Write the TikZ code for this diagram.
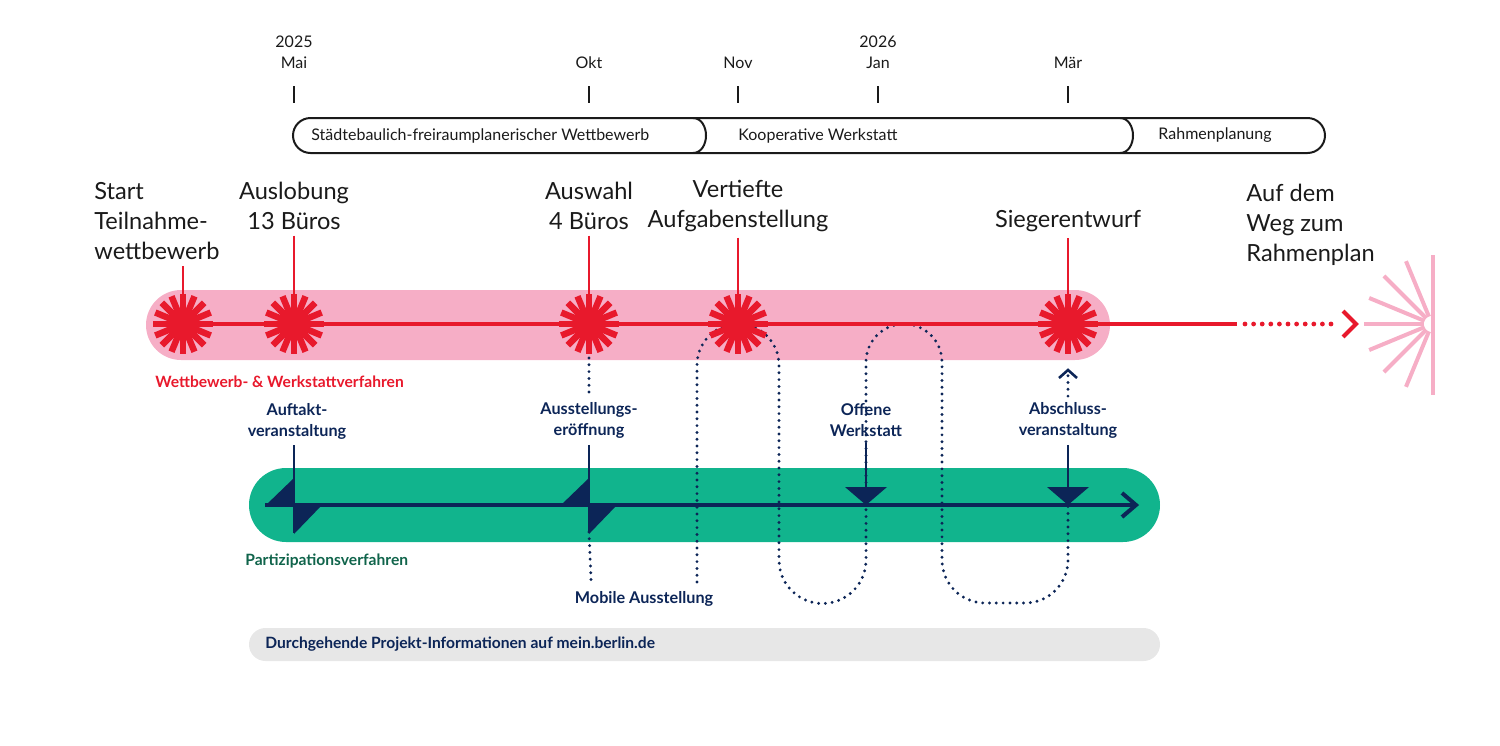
\documentclass[tikz,border=0pt]{standalone}
\usepackage{fontspec}
\setmainfont{Lato}
\usetikzlibrary{arrows.meta}
\definecolor{rred}{HTML}{E8192C}
\definecolor{rpink}{HTML}{F6AEC6}
\definecolor{rgreen}{HTML}{11B48D}
\definecolor{rnavy}{HTML}{0C2557}
\definecolor{rdkgreen}{HTML}{10644B}
\definecolor{rgrey}{HTML}{E7E7E7}
\definecolor{rtext}{HTML}{1A1A1A}
\tikzset{
  biglabel/.style={font=\fontsize{11.8}{15}\selectfont, text=rtext, align=center, inner sep=3pt},
  monthlabel/.style={font=\fontsize{8}{10.5}\selectfont, text=rtext, align=center, inner sep=1pt},
  phaselabel/.style={font=\fontsize{8}{10}\selectfont, text=rtext, inner sep=0pt},
  bluelabel/.style={font=\bfseries\fontsize{8.1}{10.5}\selectfont, text=rnavy, align=center, inner sep=3pt},
  bandlabel/.style={font=\bfseries\fontsize{7.8}{10}\selectfont, anchor=west, inner sep=0pt},
  redtick/.style={rred, line width=1pt},
  monthtick/.style={rtext, line width=1.2pt},
  navyv/.style={rnavy, line width=1.4pt},
  navydot/.style={rnavy, line width=1.6pt, line cap=round, dash pattern=on 0pt off 3.4pt},
  reddot/.style={rred, line width=2.4pt, line cap=round, dash pattern=on 0pt off 4.3pt},
  starburst/.pic={
    \foreach \a in {0,22.5,...,337.5}{\draw[rred, line width=3.2pt] (0,0) -- (\a:30);}
    \fill[rred] (0,0) circle (14);
  }
}
\begin{document}
\begin{tikzpicture}[x=0.5pt,y=-0.5pt]
\useasboundingbox (0,0) rectangle (1500,745);

% ---- month scale
\node[monthlabel] (mai) at (294,52.5) {2025\\Mai};
\node[monthlabel] (okt) at (589,63) {Okt};
\node[monthlabel] (nov) at (738,63) {Nov};
\node[monthlabel] (jan) at (878,52.5) {2026\\Jan};
\node[monthlabel] (mar) at (1068,63) {Mär};
\foreach \x in {294,589,738,878,1068}{\draw[monthtick] (\x,86) -- (\x,103);}

% ---- phase bar
\draw[rtext, line width=1pt, rounded corners=8.75pt] (293,118) rectangle (1325,153);
\draw[rtext, line width=1pt] (693,118) to[out=0,in=90] (706,135.5) to[out=-90,in=0] (693,153);
\draw[rtext, line width=1pt] (1120,118) to[out=0,in=90] (1133,135.5) to[out=-90,in=0] (1120,153);
\node[phaselabel, anchor=west] (ph1) at (311,135.5) {Städtebaulich-freiraumplanerischer Wettbewerb};
\node[phaselabel, anchor=west] (ph2) at (738,135.5) {Kooperative Werkstatt};
\node[phaselabel] (ph3) at (1215,135.5) {Rahmenplanung};

% ---- bands
\fill[rpink, rounded corners=17.5pt] (146,290) rectangle (1110,360);
\fill[rgreen, rounded corners=18.5pt] (249,468) rectangle (1160,542);
\fill[rgrey, rounded corners=8.25pt] (249,628) rectangle (1160,661);

% ---- event coordinates
\coordinate (s1) at (183,324);
\coordinate (s2) at (294,324);
\coordinate (s3) at (589,324);
\coordinate (s4) at (738,324);
\coordinate (s5) at (1068,324);
\coordinate (g1) at (294,505);
\coordinate (g2) at (589,505);
\coordinate (g3) at (866,505);
\coordinate (g4) at (1068,505);
\coordinate (redend) at (1237,324);
\coordinate (redtip) at (1356,324);
\coordinate (pb) at (1432,324);
\coordinate (navyend) at (1136,505);

% ---- labels above
\node[biglabel, align=left, anchor=west] (lstart) at (88,221) {Start\\Teilnahme-\\wettbewerb};
\node[biglabel] (lauslob) at (294,205.5) {Auslobung\\13 Büros};
\node[biglabel] (lauswahl) at (589,205.5) {Auswahl\\4 Büros};
\node[biglabel] (lvert) at (738,205.5) {Vertiefte\\Aufgabenstellung};
\node[biglabel] (lsieg) at (1068,221) {Siegerentwurf};
\node[biglabel, align=left, anchor=west] (lweg) at (1240,225) {Auf dem\\Weg zum\\Rahmenplan};

\draw[redtick] (lstart.south -| s1) -- (s1);
\draw[redtick] (lauslob.south) -- (s2);
\draw[redtick] (lauswahl.south) -- (s3);
\draw[redtick] (lvert.south) -- (s4);
\draw[redtick] (lsieg.south) -- (s5);

% ---- blue labels
\node[bluelabel] (lauftakt) at (297,421) {Auftakt-\\veranstaltung};
\node[bluelabel] (lausst) at (589,420.5) {Ausstellungs-\\eröffnung};
\node[bluelabel] (loffen) at (866,420.5) {Offene\\Werkstatt};
\node[bluelabel] (labschl) at (1068,420.5) {Abschluss-\\veranstaltung};
\node[bluelabel] (lmobil) at (644,599) {Mobile Ausstellung};
\node[bandlabel, text=rred] (lwett) at (155,382) {Wettbewerb- \& Werkstattverfahren};
\node[bandlabel, text=rdkgreen] (lpart) at (245,561) {Partizipationsverfahren};
\node[bandlabel, text=rnavy] (linfo) at (265,644.5) {Durchgehende Projekt-Informationen auf mein.berlin.de};

% ---- dotted paths
\draw[navydot] (s3) ++(0,34) -- (lausst.north);
\draw[navydot] (g2) ++(0,27) -- (591,580);
\draw[navydot] (697,582) -- (697,365) arc[start angle=180, end angle=360, radius=41]
  -- (779,560) arc[start angle=180, end angle=0, radius=43.5]
  -- (866,362) arc[start angle=180, end angle=360, radius=38]
  -- (942,560) arc[start angle=180, end angle=90, radius=43]
  -- (1025,603) arc[start angle=90, end angle=0, radius=43] -- (g4);
\coordinate (abtip) at (1068,370);
\draw[navydot] (labschl.north) -- (abtip);
\draw[rnavy, line width=1.3pt] (1059,378) -- (abtip) -- (1077,378);

% ---- red line
\draw[rred, line width=2pt] (s1) -- (redend);
\draw[reddot] (1245,324) -- (1338,324);
\draw[rred, line width=2pt] (1343,311) -- (redtip) -- (1343,337);
\foreach \s in {s1,s2,s3,s4,s5}{\pic at (\s) {starburst};}

% ---- pink burst
\draw[rpink, line width=2pt] (pb) ++(1,-69) -- ++(0,140);
\foreach \a in {180,157.5,135,112.5,202.5,225,247.5}{\draw[rpink, line width=2pt] (pb) ++(\a:8) -- ++(\a:60);}

% ---- navy line
\draw[rnavy, line width=2.3pt] (265,505) -- (navyend);
\draw[rnavy, line width=2pt] (1122,493) -- (navyend) -- (1122,517);

% Auftakt
\draw[navyv] (lauftakt.south -| g1) -- (294,533);
\fill[rnavy] (266,505) -- (294,478) -- (294,505) -- cycle;
\fill[rnavy] (294,505) -- (322,505) -- (294,534) -- cycle;
% Ausstellungseroeffnung
\draw[navyv] (lausst.south) -- (589,533);
\fill[rnavy] (561,505) -- (589,478) -- (589,505) -- cycle;
\fill[rnavy] (589,505) -- (617,505) -- (589,534) -- cycle;
% Offene Werkstatt
\draw[navyv] (loffen.south) -- (866,487);
\fill[rnavy] (845,487) -- (887,487) -- (g3) -- cycle;
% Abschluss
\draw[navyv] (labschl.south) -- (1068,487);
\fill[rnavy] (1047,487) -- (1089,487) -- (g4) -- cycle;
\end{tikzpicture}
\end{document}
